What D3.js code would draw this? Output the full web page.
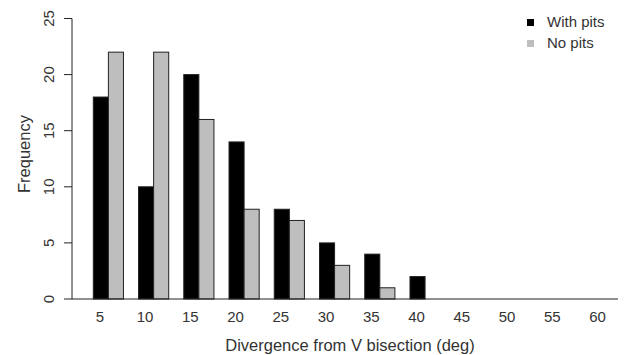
<!DOCTYPE html>
<html>
<head>
<meta charset="utf-8">
<script src="https://cdn.jsdelivr.net/npm/d3@7"></script>
<style>
  body { margin: 0; background: #fff; }
  svg { display: block; font-family: "Liberation Sans", Arial, sans-serif; }
</style>
</head>
<body>
<svg id="chart" width="635" height="355"></svg>
<script>
// bins of divergence (deg)
const bins = ['5', '10', '15', '20', '25', '30', '35', '40', '45', '50', '55', '60'];
const seriesNames = ['With pits', 'No pits'];
const withPits = [18, 10, 20, 14, 8, 5, 4, 2, 0, 0, 0, 0];
const noPits = [22, 22, 16, 8, 7, 3, 1, 0, 0, 0, 0, 0];
const yTicks = [0, 5, 10, 15, 20, 25];

const colors = ['#000000', '#bebebe'];

const svg = d3.select('#chart');
const tickSize = 15;
const titleSize = 16.5;

// plot region (R style)
const plotLeft = 72, plotRight = 618;

const x = d3.scaleBand()
  .domain(bins)
  .range([93.3, 621.1])
  .paddingInner(1 / 3)
  .paddingOuter(0);

const xSub = d3.scaleBand()
  .domain(seriesNames)
  .range([0, x.bandwidth()]);

const y = d3.scaleLinear().domain([0, 25]).range([299, 18.5]);

const rows = bins.map((b, i) => ({ bin: b, values: [withPits[i], noPits[i]] }));

// bars
const group = svg.selectAll('.grp')
  .data(rows)
  .enter().append('g')
  .attr('class', 'grp')
  .attr('transform', d => 'translate(' + x(d.bin) + ',0)');

group.selectAll('rect')
  .data(d => d.values.map((v, j) => ({ v: v, s: seriesNames[j], j: j })).filter(d => d.v > 0))
  .enter().append('rect')
  .attr('x', d => xSub(d.s))
  .attr('y', d => y(d.v))
  .attr('width', xSub.bandwidth())
  .attr('height', d => y(0) - y(d.v))
  .attr('fill', d => colors[d.j])
  .attr('stroke', '#222')
  .attr('stroke-width', 1);

// baseline (bty = "l")
svg.append('line')
  .attr('x1', plotLeft).attr('x2', plotRight)
  .attr('y1', y(0)).attr('y2', y(0))
  .attr('stroke', '#222').attr('stroke-width', 1);

// y axis
const yAxis = svg.append('g');
yAxis.append('line')
  .attr('x1', plotLeft).attr('x2', plotLeft)
  .attr('y1', y(0)).attr('y2', y(25))
  .attr('stroke', '#222');
yAxis.selectAll('.tick')
  .data(yTicks)
  .enter().append('line')
  .attr('x1', plotLeft - 8).attr('x2', plotLeft)
  .attr('y1', d => y(d)).attr('y2', d => y(d))
  .attr('stroke', '#222');
yAxis.selectAll('.lbl')
  .data(yTicks)
  .enter().append('text')
  .attr('transform', d => 'translate(54,' + y(d) + ') rotate(-90)')
  .attr('text-anchor', 'middle')
  .attr('font-size', tickSize)
  .attr('fill', '#333')
  .text(d => d);

// x labels, under the first bar of each group
svg.selectAll('.xl')
  .data(bins)
  .enter().append('text')
  .attr('x', d => x(d) + xSub.bandwidth() / 2 - 1)
  .attr('y', 322)
  .attr('text-anchor', 'middle')
  .attr('font-size', tickSize)
  .attr('fill', '#333')
  .text(d => d);

// axis titles
svg.append('text')
  .attr('x', 350)
  .attr('y', 351)
  .attr('text-anchor', 'middle')
  .attr('font-size', titleSize)
  .attr('fill', '#333')
  .text('Divergence from V bisection (deg)');

svg.append('text')
  .attr('transform', 'translate(30,154) rotate(-90)')
  .attr('text-anchor', 'middle')
  .attr('font-size', titleSize)
  .attr('fill', '#333')
  .text('Frequency');

// legend
const legend = svg.selectAll('.leg')
  .data(seriesNames)
  .enter().append('g')
  .attr('transform', (d, i) => 'translate(527,' + (19 + i * 21) + ')');
legend.append('rect')
  .attr('width', 7).attr('height', 7)
  .attr('fill', (d, i) => colors[i]);
legend.append('text')
  .attr('x', 20).attr('y', 8)
  .attr('font-size', tickSize)
  .attr('fill', '#333')
  .text(d => d);
</script>
</body>
</html>
